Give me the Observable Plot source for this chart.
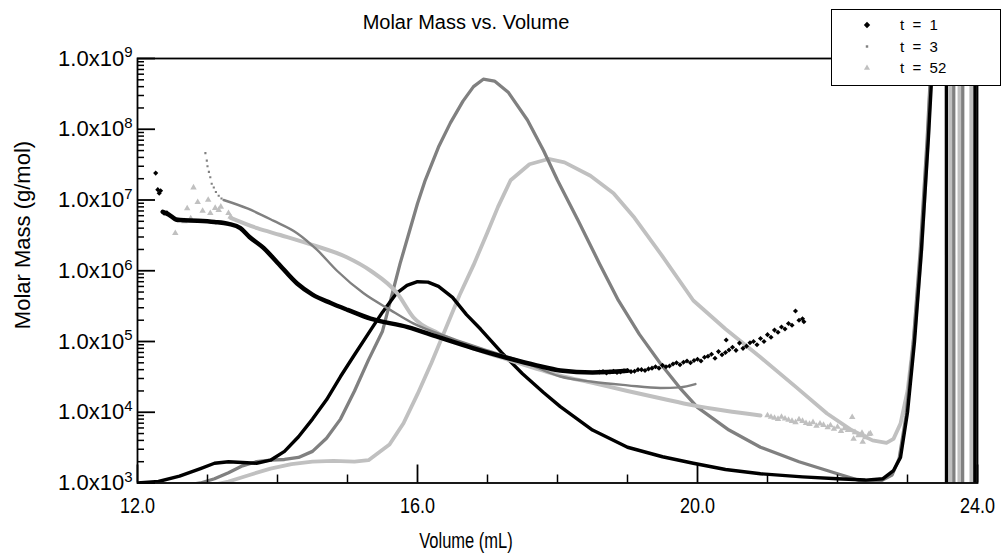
<!DOCTYPE html>
<html><head><meta charset="utf-8">
<script src="https://cdn.jsdelivr.net/npm/d3@7"></script>
<script src="https://cdn.jsdelivr.net/npm/@observablehq/plot@0.6"></script>
<style>
html,body{margin:0;padding:0;background:#fff;}
#wrap{position:relative;width:1005px;height:557px;font-family:Arial,"Liberation Sans",sans-serif;color:#000;overflow:hidden;}
#chart svg{display:block;}
.lbl{position:absolute;white-space:nowrap;line-height:1;}
#title{left:466px;top:22px;transform:translate(-50%,-50%);font-size:20px;}
#xtitle{left:466px;top:541px;transform:translate(-50%,-50%) scaleX(0.75);font-size:22px;}
#ytitle{left:23px;top:235px;transform:translate(-50%,-50%) rotate(-90deg);font-size:22px;}
#legend{position:absolute;left:831px;top:9px;width:170px;height:77px;border:1.5px solid #000;background:#fff;box-sizing:border-box;}
</style></head>
<body>
<div id="wrap">
  <div id="chart"></div>
  <div class="lbl" id="title">Molar Mass vs. Volume</div>
  <div class="lbl" id="xtitle">Volume (mL)</div>
  <div class="lbl" id="ytitle">Molar Mass (g/mol)</div>
  <div id="legend"></div>
</div>
<script>
// ---------- tick values ----------
const xMajor = [12, 16, 20, 24];
const xMinor = [13, 14, 15, 17, 18, 19, 21, 22, 23];
const yMajor = [1e3, 1e4, 1e5, 1e6, 1e7, 1e8, 1e9];
const yMinorMult = [2, 3, 4, 5, 6, 7, 8, 9];
const yMinor = yMajor.slice(0, -1).flatMap(d => yMinorMult.map(k => k * d));

// ---------- series names / colours ----------
const seriesNames = ["t = 1", "t = 3", "t = 52"];
const seriesColors = ["#000000", "#808080", "#c0c0c0"];
const seriesSymbols = ["diamond2", "square", "triangle"];

// ---------- detector traces (Volume mL, value) ----------
const traceT1 = [
  [12.0, 1.0e3], [12.3, 1.05e3], [12.6, 1.25e3], [12.9, 1.6e3], [13.1, 1.9e3], [13.3, 2.0e3],
  [13.5, 1.95e3], [13.7, 1.9e3], [13.9, 2.1e3], [14.1, 2.8e3], [14.3, 4.5e3], [14.5, 8e3],
  [14.7, 1.5e4], [14.9, 3.2e4], [15.1, 6.5e4], [15.33, 1.45e5], [15.5, 2.6e5], [15.7, 4.8e5],
  [15.85, 6.2e5], [16.0, 7.0e5], [16.15, 6.9e5], [16.3, 6.0e5], [16.5, 4.2e5], [16.7, 2.4e5],
  [16.9, 1.5e5], [17.2, 7e4], [17.5, 3.5e4], [17.8, 1.9e4], [18.04, 1.2e4], [18.5, 5.6e3],
  [19.0, 3.2e3], [19.5, 2.35e3], [19.94, 1.9e3], [20.4, 1.55e3], [20.9, 1.35e3], [21.5, 1.22e3],
  [22.0, 1.15e3], [22.4, 1.1e3], [22.65, 1.15e3], [22.8, 1.5e3], [22.9, 2.3e3], [23.0, 1e4],
  [23.1, 1e5], [23.2, 2e6], [23.3, 8e7], [23.36, 1e9], [23.4, 6e9],
  [23.555, 1e11], [23.558, 1e1], [23.962, 1e1], [23.965, 1e11], [24.0, 1e11]
];
const traceT3 = [
  [12.6, 9e2], [12.9, 1.0e3], [13.1, 1.15e3], [13.3, 1.4e3], [13.5, 1.75e3], [13.7, 2.0e3],
  [13.9, 2.1e3], [14.1, 2.15e3], [14.3, 2.3e3], [14.5, 2.8e3], [14.7, 4.3e3], [14.9, 8e3],
  [15.1, 2e4], [15.3, 5.5e4], [15.5, 1.4e5], [15.75, 1.25e6], [16.0, 8.9e6], [16.11, 1.9e7],
  [16.3, 5.6e7], [16.47, 1.23e8], [16.65, 2.5e8], [16.8, 4e8], [16.94, 5.1e8], [17.1, 4.8e8],
  [17.3, 3.3e8], [17.57, 1.35e8], [17.8, 5e7], [18.0, 1.9e7], [18.3, 5e6], [18.6, 1.26e6],
  [18.87, 3.8e5], [19.17, 1.26e5], [19.47, 4.9e4], [19.75, 2.2e4], [20.0, 1.17e4], [20.45, 5.6e3],
  [20.9, 3.2e3], [21.45, 2e3], [22.0, 1.35e3], [22.33, 1.07e3], [22.6, 1.05e3], [22.78, 1.3e3],
  [22.88, 2.2e3], [22.98, 9e3], [23.08, 9e4], [23.18, 1.8e6], [23.28, 7e7], [23.34, 1e9], [23.38, 6e9],
  [23.66, 1e11], [23.663, 1e1], [23.787, 1e1], [23.79, 1e11], [23.977, 1e11], [23.98, 1e1], [24.0, 1e1]
];
const traceT52 = [
  [13.0, 9e2], [13.3, 1.05e3], [13.6, 1.3e3], [13.9, 1.6e3], [14.2, 1.85e3], [14.5, 2.0e3],
  [14.8, 2.05e3], [15.1, 2.0e3], [15.3, 2.1e3], [15.6, 3.5e3], [15.8, 7e3], [16.0, 1.8e4],
  [16.2, 5e4], [16.4, 1.5e5], [16.6, 4.5e5], [16.8, 1.2e6], [17.0, 3.5e6], [17.15, 8e6],
  [17.33, 1.9e7], [17.6, 3.2e7], [17.87, 3.8e7], [18.1, 3.4e7], [18.47, 2.2e7], [18.8, 1.25e7],
  [19.1, 5.6e6], [19.5, 1.6e6], [19.94, 3.8e5], [20.4, 1.5e5], [20.9, 6e4], [21.4, 2.3e4],
  [21.85, 9.6e3], [22.2, 5.6e3], [22.5, 4.0e3], [22.7, 3.7e3], [22.8, 4.2e3], [22.9, 6.9e3],
  [23.0, 2e4], [23.1, 1.3e5], [23.2, 2e6], [23.3, 1e8], [23.34, 1e9], [23.37, 6e9],
  [23.612, 1e11], [23.615, 1e1], [23.74, 1e1], [23.743, 1e11], [23.91, 1e11], [23.913, 1e1], [24.0, 1e1]
];

// ---------- molar mass (Volume mL, g/mol) ----------
const mmT1Line = [
  [12.36, 6.8e6], [12.45, 6.2e6], [12.55, 5.3e6], [12.61, 5.2e6], [12.86, 5.1e6], [13.1, 4.9e6],
  [13.3, 4.6e6], [13.47, 4.0e6], [13.6, 3.0e6], [13.8, 2.1e6], [14.0, 1.3e6], [14.28, 6.6e5],
  [14.5, 4.6e5], [14.76, 3.5e5], [15.0, 2.8e5], [15.33, 2.1e5], [15.86, 1.6e5], [16.3, 1.15e5],
  [16.8, 8e4], [17.3, 5.8e4], [17.7, 4.6e4], [18.04, 3.9e4], [18.5, 3.65e4], [19.0, 3.85e4]
];
const mmT1Pts = [
  [12.26, 2.4e7], [12.29, 1.4e7], [12.31, 1.25e7], [12.33, 1.35e7], [12.38, 6.5e6], [12.42, 6.6e6],
  [18.6, 3.7e4], [18.65, 3.75e4], [18.7, 3.6e4], [18.75, 3.7e4], [18.8, 3.8e4], [18.85, 3.65e4],
  [18.9, 3.7e4], [18.95, 3.85e4], [19.0, 3.9e4], [19.05, 3.75e4], [19.1, 3.8e4], [19.15, 4.0e4],
  [19.2, 4.0e4], [19.25, 3.9e4], [19.3, 4.1e4], [19.35, 4.2e4], [19.4, 4.4e4], [19.45, 4.2e4],
  [19.5, 4.6e4], [19.55, 4.4e4], [19.6, 4.5e4], [19.65, 4.8e4], [19.7, 5.0e4], [19.75, 4.7e4],
  [19.8, 5.1e4], [19.85, 5.3e4], [19.9, 5.0e4], [19.95, 5.4e4], [20.0, 5.6e4], [20.05, 5.3e4],
  [20.1, 6.0e4], [20.15, 6.2e4], [20.2, 6.6e4], [20.25, 5.8e4], [20.3, 7.2e4], [20.35, 6.5e4],
  [20.4, 7.0e4], [20.41, 1.05e5], [20.45, 7.6e4], [20.5, 8.3e4], [20.55, 7.5e4], [20.6, 9.5e4],
  [20.65, 8.0e4], [20.7, 8.6e4], [20.75, 9.6e4], [20.8, 1.0e5], [20.85, 9.0e4], [20.9, 1.1e5],
  [20.95, 1.0e5], [21.0, 1.25e5], [21.05, 1.15e5], [21.1, 1.45e5], [21.15, 1.35e5], [21.2, 1.6e5],
  [21.25, 1.5e5], [21.3, 1.8e5], [21.35, 1.7e5], [21.4, 2.7e5], [21.45, 2.0e5], [21.5, 2.1e5],
  [21.52, 1.9e5]
];
const mmT3Line = [
  [13.23, 1e7], [13.57, 7.6e6], [13.94, 5.1e6], [14.28, 3.4e6], [14.57, 1.95e6], [14.85, 1.0e6],
  [15.23, 4.8e5], [15.61, 2.8e5], [15.94, 1.8e5], [16.5, 1.1e5], [17.0, 7.5e4], [17.5, 5.2e4],
  [18.04, 3.2e4], [18.5, 2.7e4], [19.0, 2.4e4], [19.47, 2.2e4], [19.75, 2.25e4], [19.97, 2.5e4]
];
const mmT3Pts = [
  [12.97, 4.6e7], [12.99, 3.6e7], [13.0, 3.0e7], [13.02, 2.5e7], [13.04, 2.1e7], [13.06, 1.7e7],
  [13.09, 1.5e7], [13.12, 1.3e7], [13.16, 1.15e7], [13.2, 1.05e7]
];
const mmT52Line = [
  [13.33, 5.6e6], [13.71, 4.0e6], [14.04, 3.2e6], [14.51, 2.3e6], [14.99, 1.55e6], [15.33, 1.0e6],
  [15.71, 4.8e5], [15.94, 2.2e5], [16.3, 1.3e5], [16.8, 8e4], [17.3, 5.5e4], [18.04, 3.3e4],
  [18.5, 2.6e4], [19.0, 2.0e4], [19.5, 1.55e4], [19.94, 1.25e4], [20.4, 1.05e4], [20.9, 9e3]
];
const mmT52Pts = [
  [12.54, 3.4e6], [12.67, 5.0e6], [12.71, 7.6e6], [12.76, 5.5e6], [12.8, 1.5e7], [12.86, 9.3e6],
  [12.93, 7.0e6], [13.01, 1.0e7], [13.04, 6.5e6], [13.11, 7.7e6], [13.16, 7.2e6], [13.19, 8.0e6],
  [13.3, 6.5e6], [13.33, 5.8e6],
  [21.0, 9e3], [21.05, 8.6e3], [21.1, 8.3e3], [21.15, 8.0e3], [21.2, 8.6e3], [21.25, 8.1e3],
  [21.3, 7.8e3], [21.35, 7.5e3], [21.4, 7.2e3], [21.45, 7.9e3], [21.5, 7.5e3], [21.55, 7.0e3],
  [21.6, 6.8e3], [21.65, 7.2e3], [21.7, 6.4e3], [21.75, 6.9e3], [21.8, 6.6e3], [21.86, 6.1e3],
  [21.9, 6.5e3], [21.95, 5.8e3], [22.0, 6.2e3], [22.05, 5.4e3], [22.1, 5.9e3], [22.15, 5.6e3],
  [22.21, 8.5e3], [22.23, 4.2e3], [22.25, 5.2e3], [22.3, 4.7e3], [22.35, 5.1e3], [22.36, 3.8e3],
  [22.4, 4.4e3], [22.45, 4.9e3], [22.47, 5.0e3]
];

const X = d => d[0], Y = d => d[1];
const expOf = d => Math.round(Math.log10(d));

const chart = Plot.plot({
  width: 1005, height: 557,
  marginTop: 58, marginRight: 28, marginBottom: 74.5, marginLeft: 137,
  style: {background: "#fff", color: "#000", fontFamily: "Arial, 'Liberation Sans', sans-serif"},
  x: {domain: [12, 24]},
  y: {type: "log", domain: [1e3, 1e9]},
  marks: [
    Plot.line(traceT52, {x: X, y: Y, stroke: seriesColors[2], strokeWidth: 3.8, clip: true}),
    Plot.line(traceT3, {x: X, y: Y, stroke: seriesColors[1], strokeWidth: 3.3, clip: true}),
    Plot.line(traceT1, {x: X, y: Y, stroke: seriesColors[0], strokeWidth: 3.4, clip: true}),
    Plot.line(mmT52Line, {x: X, y: Y, stroke: seriesColors[2], strokeWidth: 4, curve: "monotone-x", clip: true}),
    Plot.dot(mmT52Pts, {x: X, y: Y, symbol: seriesSymbols[2], r: 2.4, fill: seriesColors[2], clip: true}),
    Plot.line(mmT3Line, {x: X, y: Y, stroke: seriesColors[1], strokeWidth: 2.4, curve: "monotone-x", clip: true}),
    Plot.dot(mmT3Pts, {x: X, y: Y, symbol: seriesSymbols[1], r: 1.2, fill: seriesColors[1], clip: true}),
    Plot.line(mmT1Line, {x: X, y: Y, stroke: seriesColors[0], strokeWidth: 4.5, curve: "monotone-x", clip: true}),
    Plot.dot(mmT1Pts, {x: X, y: Y, symbol: seriesSymbols[0], r: 2.3, fill: seriesColors[0], clip: true}),
    Plot.frame({stroke: "#000", strokeWidth: 1.8}),
    Plot.axisX({ticks: xMajor, tickSize: -18, fill: "none", strokeWidth: 1.8, label: null}),
    Plot.axisX({ticks: xMinor, tickSize: -8, fill: "none", strokeWidth: 1.5, label: null}),
    Plot.axisX({ticks: xMajor, tickSize: 0, tickPadding: 14, tickFormat: d => d.toFixed(1), fontSize: 22, label: null}),
    Plot.axisY({ticks: yMajor, tickSize: -18, fill: "none", strokeWidth: 1.8, label: null}),
    Plot.axisY({ticks: yMinor, tickSize: -7, fill: "none", strokeWidth: 1.5, label: null}),
    Plot.axisY({ticks: yMajor, tickSize: 0, tickPadding: 5, tickFormat: d => "1.0x10^" + expOf(d), fontSize: 22, label: null})
  ]
});

d3.select(chart).selectAll('g[aria-label="y-axis tick label"] text').each(function () {
  const parts = this.textContent.split("^");
  const t = d3.select(this);
  t.text(parts[0]);
  t.append("tspan").attr("dy", "-0.55em").attr("font-size", "0.68em").text(parts[1]);
});
d3.select(chart).selectAll('g[aria-label="x-axis tick label"] text')
  .attr("textLength", 35).attr("lengthAdjust", "spacingAndGlyphs");

document.getElementById("chart").appendChild(chart);

const lg = d3.select("#legend").append("svg").attr("width", 167).attr("height", 74)
  .style("display", "block").style("font-family", "Arial, 'Liberation Sans', sans-serif");
const symMap = {diamond2: d3.symbolDiamond2, square: d3.symbolSquare, triangle: d3.symbolTriangle};
const symSize = [26, 6, 16];
seriesNames.forEach((name, i) => {
  const cy = 15 + i * 21.5;
  lg.append("path").attr("transform", `translate(35,${cy})`)
    .attr("d", d3.symbol(symMap[seriesSymbols[i]], symSize[i])()).attr("fill", seriesColors[i]);
  lg.append("text").attr("x", 68).attr("y", cy).attr("dy", "0.35em").attr("font-size", 15)
    .style("white-space", "pre").text(name.replace(/ /g, "  "));
});
</script>
</body></html>
